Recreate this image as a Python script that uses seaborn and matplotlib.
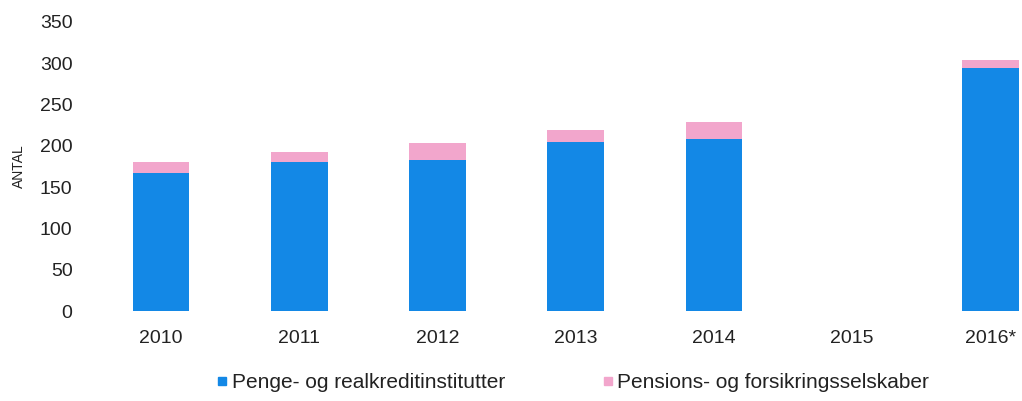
import pandas as pd
import matplotlib
matplotlib.use('Agg')
import matplotlib.pyplot as plt
import seaborn as sns
from matplotlib.lines import Line2D

# Values
years = ['2010', '2011', '2012', '2013', '2014', '2015', '2016*']
penge = [167, 180, 183, 205, 208, 0, 294]
pension = [13, 12, 20, 14, 21, 0, 10]

blue = '#1388e6'
pink = '#f2a6cc'

df = pd.DataFrame({'year': years, 'penge': penge, 'pension': pension})
df['total'] = df['penge'] + df['pension']

sns.set_theme(style='white')
plt.rcParams['font.family'] = ['Liberation Sans', 'DejaVu Sans']

fig = plt.figure(figsize=(10.22, 4.01), dpi=100)
ax = fig.add_axes([92 / 1022, 1 - 311 / 401, 1 - 92 / 1022, (311 - 22) / 401])

# stacked: total in pink behind, blue part in front
sns.barplot(data=df, x='year', y='total', color=pink, width=0.41, saturation=1,
            linewidth=0, ax=ax)
sns.barplot(data=df, x='year', y='penge', color=blue, width=0.41, saturation=1,
            linewidth=0, ax=ax)

ax.set_ylim(0, 350)
ax.set_xlim(-0.5, 6.23)
ax.set_yticks(range(0, 351, 50))
ax.set_xlabel('')
ax.set_ylabel('ANTAL', fontsize=10, color='#222222', labelpad=10)
ax.tick_params(axis='both', length=0, labelsize=14, colors='#222222')
ax.tick_params(axis='x', pad=14)
ax.tick_params(axis='y', pad=14)
sns.despine(ax=ax, left=True, bottom=True)

handles = [
    Line2D([], [], marker='s', linestyle='', color=blue, markersize=6),
    Line2D([], [], marker='s', linestyle='', color=pink, markersize=6),
]
fig.legend(handles, ['Penge- og realkreditinstitutter', 'Pensions- og forsikringsselskaber'],
           loc='center', bbox_to_anchor=(572 / 1022, 1 - 383 / 401), ncol=2, frameon=False,
           fontsize=15, handletextpad=0.1, columnspacing=4.6, handlelength=0.7,
           labelcolor='#222222')

fig.savefig('out.png', dpi=100)
